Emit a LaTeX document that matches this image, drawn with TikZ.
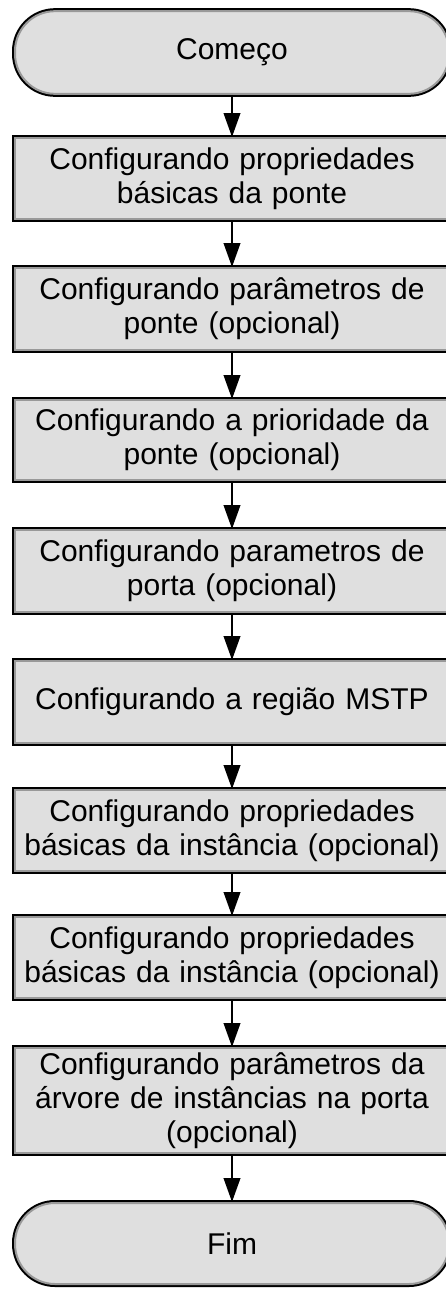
\documentclass[tikz,border=0pt]{standalone}
\usepackage{fontspec}
\setmainfont{Liberation Sans}
\usepackage{tikz}
\usetikzlibrary{arrows.meta,positioning}

\begin{document}
\begin{tikzpicture}[
    x=0.75pt, y=-0.75pt,
    stepbox/.style={rectangle, preaction={draw=black, line width=4.5pt}, draw=gray!80, line width=1.5pt, fill=gray!25, minimum width=325.5pt, text width=320pt, align=center, inner sep=0pt, font=\fontsize{22.5pt}{25.5pt}\selectfont},
    term/.style={stepbox, rounded corners=30pt},
    line/.style={draw, line width=1.4pt, -{Triangle[length=18pt, width=12.5pt]}}
]
\useasboundingbox (0,0) rectangle (446,1296);

\node[term, minimum height=62pt] (start) at (232, 52.5) {Começo};

\node[stepbox, minimum height=60.75pt] (bridgebasic) at (232, 178.5) {
    Configurando propriedades\\
    básicas da ponte
};

\node[stepbox, minimum height=61.5pt] (bridgeparam) at (232, 309) {
    Configurando parâmetros de\\
    ponte (opcional)
};

\node[stepbox, minimum height=60pt] (bridgeprio) at (232, 440) {
    Configurando a prioridade da\\
    ponte (opcional)
};

\node[stepbox, minimum height=61.5pt] (portparam) at (232, 571) {
    Configurando parametros de\\
    porta (opcional)
};

\node[stepbox, minimum height=61.5pt] (region) at (232, 702) {
    Configurando a região MSTP
};

\node[stepbox, minimum height=60.75pt] (instbasic) at (232, 830.5) {
    Configurando propriedades\\
    básicas da instância (opcional)
};

\node[stepbox, minimum height=60.75pt] (instbasictwo) at (232, 957.5) {
    Configurando propriedades\\
    básicas da instância (opcional)
};

\node[stepbox, minimum height=78.75pt] (instport) at (232, 1100.5) {
    Configurando parâmetros da\\
    árvore de instâncias na porta\\
    (opcional)
};

\node[term, minimum height=60.75pt] (finish) at (232, 1243.5) {Fim};

\draw[line] (start) -- (bridgebasic);
\draw[line] (bridgebasic) -- (bridgeparam);
\draw[line] (bridgeparam) -- (bridgeprio);
\draw[line] (bridgeprio) -- (portparam);
\draw[line] (portparam) -- (region);
\draw[line] (region) -- (instbasic);
\draw[line] (instbasic) -- (instbasictwo);
\draw[line] (instbasictwo) -- (instport);
\draw[line] (instport) -- (finish);

\end{tikzpicture}
\end{document}
